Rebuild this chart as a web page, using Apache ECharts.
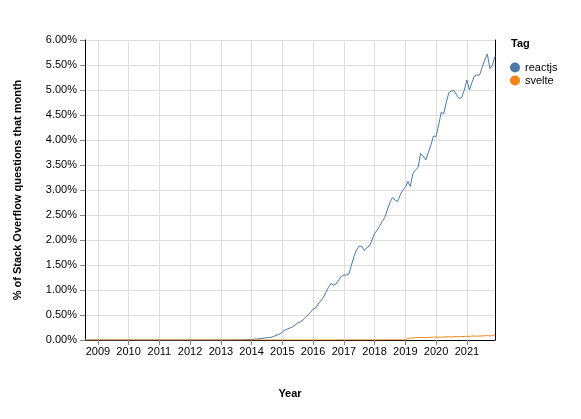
<!DOCTYPE html>
<html>
<head>
<meta charset="utf-8">
<script src="https://cdn.jsdelivr.net/npm/echarts@6/dist/echarts.min.js"></script>
<style>html,body{margin:0;padding:0;background:#fff}#chart{width:581px;height:419px}</style>
</head>
<body>
<div id="chart"></div>
<script>
// monthly values in percent, Aug 2008 .. Dec 2021
let startMonth = '2008-08';
let reactjs = [
    0, 0, 0, 0, 0,
    0, 0, 0, 0, 0, 0, 0, 0, 0, 0, 0, 0,
    0, 0, 0, 0, 0, 0, 0, 0, 0, 0, 0, 0,
    0, 0, 0, 0, 0, 0, 0, 0, 0, 0, 0, 0,
    0, 0, 0, 0, 0, 0, 0, 0, 0, 0, 0, 0,
    0, 0, 0, 0, 0, 0.001, 0.002, 0.003, 0.004, 0.005, 0.006, 0.008,
    0.01, 0.015, 0.02, 0.025, 0.03, 0.04, 0.045, 0.05, 0.06, 0.08, 0.1, 0.12,
    0.16, 0.2, 0.22, 0.24, 0.26, 0.3, 0.34, 0.36, 0.4, 0.45, 0.5, 0.55,
    0.62, 0.64, 0.72, 0.78, 0.85, 0.95, 1.05, 1.13, 1.1, 1.12, 1.2, 1.27,
    1.3, 1.3, 1.32, 1.5, 1.67, 1.8, 1.88, 1.87, 1.79, 1.85, 1.88, 2.0,
    2.13, 2.2, 2.28, 2.37, 2.45, 2.6, 2.75, 2.85, 2.8, 2.77, 2.9, 3.0,
    3.05, 3.17, 3.07, 3.33, 3.4, 3.45, 3.73, 3.68, 3.6, 3.75, 3.9, 4.08,
    4.07, 4.3, 4.55, 4.53, 4.75, 4.95, 4.98, 4.99, 4.9, 4.83, 4.85, 5.0,
    5.2, 5.0, 5.15, 5.28, 5.3, 5.3, 5.45, 5.6, 5.72, 5.43, 5.5, 5.67
];
let svelte = [
    0, 0, 0, 0, 0,
    0, 0, 0, 0, 0, 0, 0, 0, 0, 0, 0, 0,
    0, 0, 0, 0, 0, 0, 0, 0, 0, 0, 0, 0,
    0, 0, 0, 0, 0, 0, 0, 0, 0, 0, 0, 0,
    0, 0, 0, 0, 0, 0, 0, 0, 0, 0, 0, 0,
    0, 0, 0, 0, 0, 0, 0, 0, 0, 0, 0, 0,
    0, 0, 0, 0, 0, 0, 0, 0, 0, 0, 0, 0,
    0, 0, 0, 0, 0, 0, 0, 0, 0, 0, 0, 0,
    0, 0, 0, 0, 0, 0, 0, 0, 0, 0, 0.001, 0.001,
    0.001, 0.001, 0.002, 0.002, 0.002, 0.002, 0.002, 0.002, 0.002, 0.002, 0.002, 0.002,
    0.002, 0.002, 0.002, 0.002, 0.003, 0.003, 0.003, 0.003, 0.003, 0.003, 0.003, 0.003,
    0.003, 0.03, 0.04, 0.04, 0.045, 0.05, 0.05, 0.05, 0.05, 0.05, 0.055, 0.055,
    0.06, 0.055, 0.06, 0.06, 0.065, 0.065, 0.06, 0.065, 0.07, 0.065, 0.07, 0.07,
    0.075, 0.07, 0.08, 0.08, 0.075, 0.08, 0.08, 0.085, 0.09, 0.08, 0.09, 0.1
];

function monthDate(i) {
    let y = Number(startMonth.slice(0, 4)), m = Number(startMonth.slice(5)) - 1 + i;
    return new Date(y + Math.floor(m / 12), m % 12, 1).getTime();
}
function toSeries(values) {
    return values.map((v, i) => [monthDate(i), v]);
}

let myChart = echarts.init(document.getElementById('chart'));
let fontFamily = 'Helvetica, Arial, "Liberation Sans", sans-serif';
let option = {
    animation: false,
    textStyle: {fontFamily: fontFamily},
    color: ['#4c78a8', '#f58518'],
    grid: {left: 85, right: 86, top: 40, bottom: 79},
    legend: {
        orient: 'vertical', left: 505, top: 57, itemGap: 2,
        icon: 'circle', itemWidth: 10, itemHeight: 10,
        textStyle: {fontSize: 11, color: '#000'},
        data: ['reactjs', 'svelte']
    },
    graphic: [{
        type: 'text', left: 511, top: 38,
        style: {text: 'Tag', font: 'bold 11px ' + fontFamily, fill: '#000'}
    }],
    xAxis: {
        type: 'time',
        min: monthDate(0), max: monthDate(reactjs.length - 1),
        minInterval: 365 * 24 * 3600 * 1000,
        splitNumber: 13,
        name: 'Year', nameLocation: 'middle', nameGap: 48,
        nameTextStyle: {fontWeight: 'bold', fontSize: 11, color: '#000'},
        axisLine: {lineStyle: {color: '#000'}},
        axisTick: {show: true, lineStyle: {color: '#888'}},
        splitLine: {show: true, lineStyle: {color: '#ddd'}},
        axisLabel: {fontSize: 11, color: '#000', margin: 6, formatter: '{yyyy}', showMinLabel: false, showMaxLabel: false}
    },
    yAxis: [{
        type: 'value', min: 0, max: 6, interval: 0.5,
        name: '% of Stack Overflow questions that month', nameLocation: 'middle', nameGap: 62,
        nameTextStyle: {fontWeight: 'bold', fontSize: 11, color: '#000'},
        axisLine: {show: true, lineStyle: {color: '#000'}},
        axisTick: {show: true, lineStyle: {color: '#888'}},
        splitLine: {lineStyle: {color: '#ddd'}},
        axisLabel: {fontSize: 11, color: '#000', formatter: v => v.toFixed(2) + '%'}
    }, {
        type: 'value', min: 0, max: 6, position: 'right',
        axisLine: {show: true, lineStyle: {color: '#000'}},
        axisTick: {show: false}, axisLabel: {show: false}, splitLine: {show: false}
    }],
    series: [
        {name: 'reactjs', type: 'line', data: toSeries(reactjs), showSymbol: false, lineStyle: {width: 1}},
        {name: 'svelte', type: 'line', data: toSeries(svelte), showSymbol: false, lineStyle: {width: 1}}
    ]
};
myChart.setOption(option);
</script>
</body>
</html>
